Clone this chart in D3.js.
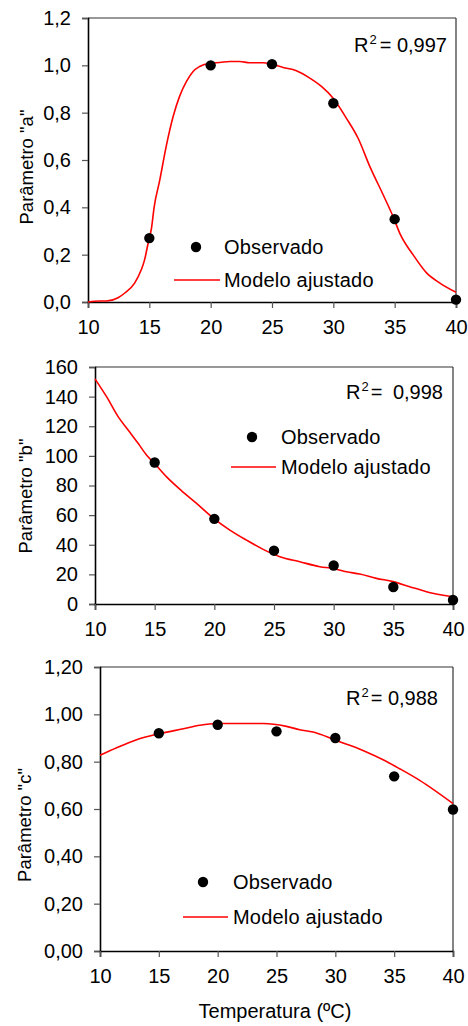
<!DOCTYPE html>
<html>
<head>
<meta charset="utf-8">
<script src="https://cdn.jsdelivr.net/npm/d3@7"></script>
<style>
  html, body { margin: 0; padding: 0; background: #fff; }
  svg { display: block; }
  text { font-family: "Liberation Sans", Arial, sans-serif; fill: #000; }
</style>
</head>
<body>
<svg id="chart" width="468" height="1026"></svg>
<script>
// Observed temperatures (ºC)
const tempObs = [15, 20, 25, 30, 35, 40];

// Parameter "a"
const obsA = [0.27, 1.00, 1.005, 0.84, 0.35, 0.01];
const fitTempA = [10, 10.95, 11.5, 12.45, 13.0, 13.8, 14.35, 14.6, 14.95, 15.17, 15.39, 15.85, 16.4, 16.94, 17.48, 18.03, 18.57, 19.1, 19.93, 20.74, 21.56, 22.37, 23.19, 24.28, 24.96, 25.9, 26.99, 28.08, 29.03, 29.99, 31.07, 32.02, 32.98, 34.07, 34.88, 35.43, 36.52, 37.6, 38.69, 40];
const fitA = [0, 0.004, 0.004, 0.018, 0.038, 0.08, 0.137, 0.176, 0.26, 0.31, 0.40, 0.515, 0.664, 0.784, 0.871, 0.932, 0.974, 0.995, 1.009, 1.012, 1.016, 1.016, 1.011, 1.011, 1.005, 0.991, 0.977, 0.946, 0.911, 0.861, 0.776, 0.692, 0.572, 0.452, 0.36, 0.289, 0.198, 0.123, 0.080, 0.041];
const ticksA = [0, 0.2, 0.4, 0.6, 0.8, 1.0, 1.2];

// Parameter "b"
const obsB = [95.5, 57.5, 36, 26, 11.5, 2.7];
const fitTempB = [10, 10.98, 11.95, 12.79, 13.63, 14.33, 14.94, 16.0, 17.26, 18.51, 19.94, 21.3, 22.7, 24.09, 25.49, 27.16, 28.84, 29.95, 31.07, 32.19, 33.58, 34.98, 36.37, 37.77, 40];
const fitB = [152, 139.8, 126.3, 117.3, 108.3, 100.4, 95.3, 85.8, 76.4, 67.9, 57.8, 49.9, 43.1, 36.9, 31.9, 28.5, 25.2, 24.0, 21.8, 20.2, 17.3, 15.1, 11.7, 8.3, 4.9];
const ticksB = [0, 20, 40, 60, 80, 100, 120, 140, 160];

// Parameter "c"
const obsC = [0.92, 0.956, 0.928, 0.90, 0.738, 0.598];
const fitTempC = [10, 11.42, 13.11, 15.04, 17.08, 18.49, 19.94, 21.9, 23.87, 25.85, 26.98, 28.1, 29.93, 31.23, 32.64, 34.06, 35.47, 37.17, 40];
const fitC = [0.827, 0.859, 0.893, 0.918, 0.939, 0.954, 0.961, 0.961, 0.961, 0.949, 0.935, 0.925, 0.893, 0.869, 0.841, 0.808, 0.770, 0.721, 0.623];
const ticksC = [0, 0.2, 0.4, 0.6, 0.8, 1.0, 1.2];

const tempTicks = [10, 15, 20, 25, 30, 35, 40];
const legendLabels = ["Observado", "Modelo ajustado"];

const svg = d3.select("#chart");

function panel(cfg) {
  const g = svg.append("g");
  const x = d3.scaleLinear().domain([10, 40]).range([cfg.left, cfg.right]);
  const y = d3.scaleLinear().domain(cfg.domain).range([cfg.bottom, cfg.top]);

  // frame: top and right borders
  g.append("line").attr("x1", cfg.left).attr("x2", cfg.right)
    .attr("y1", cfg.top).attr("y2", cfg.top)
    .attr("stroke", "#333").attr("stroke-width", 1.2);
  g.append("line").attr("x1", cfg.right).attr("x2", cfg.right)
    .attr("y1", cfg.top).attr("y2", cfg.bottom)
    .attr("stroke", "#333").attr("stroke-width", 1.2);

  const yAxis = d3.axisLeft(y).tickValues(cfg.ticks).tickSize(6).tickPadding(11)
    .tickFormat(cfg.fmt);
  const ya = g.append("g").attr("transform", `translate(${cfg.left},0)`).call(yAxis);
  ya.select(".domain").attr("stroke", "#000").attr("stroke-width", 1.6);
  ya.selectAll(".tick line").attr("stroke", "#555").attr("stroke-width", 1.2);
  ya.selectAll(".tick text").style("font-size", "20px")
    .style("font-family", "'Liberation Sans', Arial, sans-serif");

  const xAxis = d3.axisBottom(x).tickValues(tempTicks).tickSize(6).tickPadding(12)
    .tickFormat(d3.format("d"));
  const xa = g.append("g").attr("transform", `translate(0,${cfg.bottom})`).call(xAxis);
  xa.select(".domain").attr("stroke", "#000").attr("stroke-width", 1.6);
  xa.selectAll(".tick line").attr("stroke", "#555").attr("stroke-width", 1.2);
  xa.selectAll(".tick text").style("font-size", "20px")
    .style("font-family", "'Liberation Sans', Arial, sans-serif");

  // fitted model
  const line = d3.line().x(d => x(d[0])).y(d => y(d[1])).curve(d3.curveMonotoneX);
  g.append("path")
    .datum(cfg.fitT.map((t, i) => [t, cfg.fit[i]]))
    .attr("d", line)
    .attr("fill", "none").attr("stroke", "#ff0000").attr("stroke-width", 1.6);

  // observed points
  g.selectAll("circle.obs")
    .data(tempObs.map((t, i) => [t, cfg.obs[i]]))
    .join("circle").attr("class", "obs")
    .attr("cx", d => x(d[0])).attr("cy", d => y(d[1])).attr("r", 5.2)
    .attr("fill", "#000");

  // y title
  g.append("text")
    .attr("transform", `translate(${cfg.titleX},${cfg.titleY}) rotate(-90)`)
    .attr("text-anchor", "middle")
    .style("font-size", "18.5px")
    .text(cfg.title);

  // R² annotation
  const r = g.append("text").attr("x", cfg.rx).attr("y", cfg.ry)
    .attr("text-anchor", "end").style("font-size", "20px");
  r.append("tspan").text("R");
  r.append("tspan").attr("dx", 1).attr("dy", -8).style("font-size", "13px").text("2");
  r.append("tspan").attr("dy", 8).attr("dx", cfg.rgap).text("= ");
  r.append("tspan").attr("dx", cfg.rgap2).text(cfg.r2);

  // legend
  const L = cfg.legend;
  g.append("circle").attr("cx", L.dotX).attr("cy", L.dotY).attr("r", 5.2).attr("fill", "#000");
  g.append("text").attr("x", L.textX).attr("y", L.dotY + 6.5)
    .style("font-size", "20px").style("letter-spacing", "0.2px").text(legendLabels[0]);
  g.append("line").attr("x1", L.lineX1).attr("x2", L.lineX2)
    .attr("y1", L.lineY).attr("y2", L.lineY)
    .attr("stroke", "#ff0000").attr("stroke-width", 1.6);
  g.append("text").attr("x", L.textX).attr("y", L.lineY + 6.5)
    .style("font-size", "20px").style("letter-spacing", "0.2px").text(legendLabels[1]);

  return { x, y };
}

const commaFmt = n => d3.format(`.${n}f`);

panel({
  left: 88, right: 456, top: 18, bottom: 302,
  domain: [0, 1.2], ticks: ticksA,
  fmt: d => commaFmt(1)(d).replace(".", ","),
  fitT: fitTempA, fit: fitA, obs: obsA,
  title: 'Parâmetro "a"', titleX: 33, titleY: 167,
  r2: "0,997", rx: 447, ry: 52, rgap: 3, rgap2: 0,
  legend: { dotX: 196, dotY: 247, textX: 224, lineX1: 174, lineX2: 220, lineY: 280 }
});

panel({
  left: 95, right: 453, top: 367, bottom: 604,
  domain: [0, 160], ticks: ticksB,
  fmt: d3.format("d"),
  fitT: fitTempB, fit: fitB, obs: obsB,
  title: 'Parâmetro "b"', titleX: 32, titleY: 496,
  r2: "0,998", rx: 443, ry: 399, rgap: 2, rgap2: 5,
  legend: { dotX: 252, dotY: 437, textX: 281, lineX1: 231, lineX2: 276, lineY: 467 }
});

panel({
  left: 100, right: 453, top: 667, bottom: 951,
  domain: [0, 1.2], ticks: ticksC,
  fmt: d => commaFmt(2)(d).replace(".", ","),
  fitT: fitTempC, fit: fitC, obs: obsC,
  title: 'Parâmetro "c"', titleX: 31, titleY: 825,
  r2: "0,988", rx: 438, ry: 705, rgap: 2, rgap2: 0,
  legend: { dotX: 203, dotY: 882, textX: 233, lineX1: 183, lineX2: 228, lineY: 917 }
});

svg.append("text").attr("x", 275).attr("y", 1018)
  .attr("text-anchor", "middle").style("font-size", "20px")
  .text("Temperatura (ºC)");
</script>
</body>
</html>
